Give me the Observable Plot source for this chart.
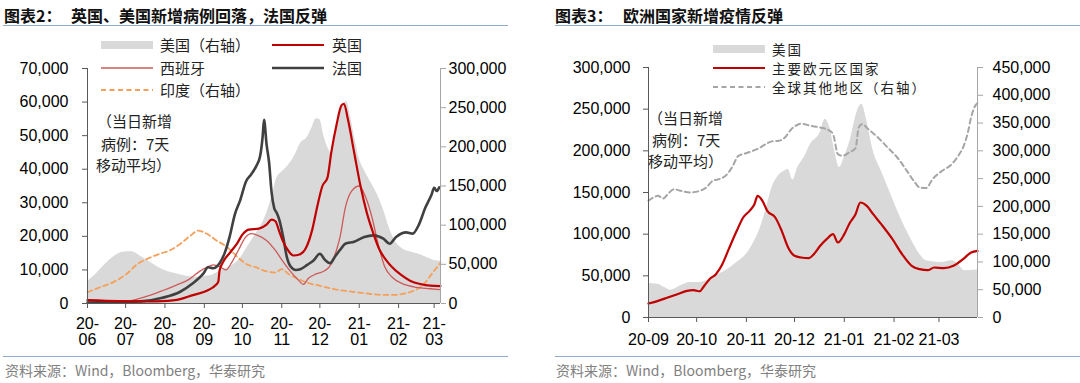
<!DOCTYPE html>
<html><head><meta charset="utf-8">
<script src="https://cdn.jsdelivr.net/npm/d3@7"></script>
<script src="https://cdn.jsdelivr.net/npm/@observablehq/plot@0.6"></script>
<style>
body{margin:0;background:#fff;}
#root{position:relative;width:1080px;height:383px;overflow:hidden;background:#fff;font-family:"Noto Sans CJK SC","Noto Sans",sans-serif;}
.abs{position:absolute;white-space:nowrap;}
.title{font-size:16px;line-height:16px;font-weight:bold;color:#111;}
.hr{position:absolute;height:0;border-top:1.5px solid #8eaad0;}
.src{font-size:14px;line-height:14px;color:#808080;}
.lg{font-size:15px;line-height:15px;color:#222;}
.lg2{font-size:13.5px;line-height:14px;letter-spacing:2px;color:#222;}
.note{font-size:15px;line-height:15px;color:#222;}
.chart{position:absolute;top:30px;}
svg.sw{position:absolute;overflow:visible;}
</style></head><body><div id="root"></div>
<script>
// ===== Left chart data (7-day moving averages) =====
const leftMonthTicks = ["2020-06-01","2020-07-01","2020-08-01","2020-09-01","2020-10-01","2020-11-01","2020-12-01","2021-01-01","2021-02-01","2021-03-01"];
const leftYTicks = [0,10000,20000,30000,40000,50000,60000,70000];
const leftY2Ticks = [0,50000,100000,150000,200000,250000,300000];
const leftUS = [["2020-06-01",28000],["2020-06-08",38000],["2020-06-15",50000],["2020-06-22",60000],["2020-06-29",65500],["2020-07-06",66000],["2020-07-13",60000],["2020-07-20",53000],["2020-07-27",46000],["2020-08-03",41000],["2020-08-10",38000],["2020-08-17",35000],["2020-08-24",33500],["2020-08-31",34500],["2020-09-07",36000],["2020-09-14",42000],["2020-09-21",47000],["2020-09-28",55000],["2020-10-05",72000],["2020-10-12",90000],["2020-10-16",100000],["2020-10-20",115000],["2020-10-24",135000],["2020-10-28",160000],["2020-11-01",168000],["2020-11-06",176000],["2020-11-11",188000],["2020-11-16",205000],["2020-11-21",212000],["2020-11-25",225000],["2020-11-28",236000],["2020-12-01",235000],["2020-12-04",215000],["2020-12-07",200000],["2020-12-10",192000],["2020-12-13",210000],["2020-12-16",235000],["2020-12-19",252000],["2020-12-22",258000],["2020-12-25",240000],["2020-12-28",215000],["2021-01-01",185000],["2021-01-05",170000],["2021-01-10",155000],["2021-01-15",140000],["2021-01-20",120000],["2021-01-25",95000],["2021-01-30",78000],["2021-02-04",70000],["2021-02-10",66000],["2021-02-17",63000],["2021-02-24",58000],["2021-03-01",55000],["2021-03-06",54000]];
const leftUK = [["2020-06-01",1000],["2020-06-26",700],["2020-07-20",600],["2020-07-30",700],["2020-08-13",1300],["2020-08-23",2500],["2020-09-03",3800],["2020-09-10",5500],["2020-09-12",6500],["2020-09-13",9800],["2020-09-16",12500],["2020-09-22",15500],["2020-09-27",18000],["2020-10-01",20500],["2020-10-06",22000],["2020-10-14",22300],["2020-10-20",23500],["2020-10-24",25000],["2020-10-27",24500],["2020-10-30",21500],["2020-11-02",18500],["2020-11-06",15800],["2020-11-10",14300],["2020-11-15",14600],["2020-11-20",16500],["2020-11-25",22000],["2020-11-29",29000],["2020-12-03",35000],["2020-12-07",37500],["2020-12-10",45000],["2020-12-14",53000],["2020-12-18",59000],["2020-12-20",59500],["2020-12-23",55000],["2020-12-28",45000],["2021-01-02",35000],["2021-01-07",27000],["2021-01-12",21000],["2021-01-17",16000],["2021-01-22",13000],["2021-01-27",10800],["2021-02-03",8500],["2021-02-10",6800],["2021-02-18",5800],["2021-02-26",5300],["2021-03-06",5200]];
const leftSpain = [["2020-06-01",300],["2020-06-20",400],["2020-07-01",600],["2020-07-10",1300],["2020-07-20",2400],["2020-07-30",3800],["2020-08-10",5500],["2020-08-20",7200],["2020-08-28",9500],["2020-09-03",10800],["2020-09-08",11500],["2020-09-14",10800],["2020-09-18",10000],["2020-09-23",12500],["2020-09-28",16000],["2020-10-03",19500],["2020-10-08",20800],["2020-10-13",20300],["2020-10-20",18800],["2020-10-27",15800],["2020-11-01",13000],["2020-11-08",9500],["2020-11-14",7000],["2020-11-18",5700],["2020-11-22",7500],["2020-11-28",8800],["2020-12-05",9800],["2020-12-10",11800],["2020-12-14",15800],["2020-12-17",20000],["2020-12-21",28500],["2020-12-26",33500],["2021-01-01",35000],["2021-01-06",31700],["2021-01-11",25700],["2021-01-16",17500],["2021-01-21",11000],["2021-01-27",7800],["2021-02-04",5900],["2021-02-15",4800],["2021-02-26",4400],["2021-03-06",4100]];
const leftFrance = [["2020-06-01",300],["2020-06-15",400],["2020-07-01",500],["2020-07-15",700],["2020-07-30",1700],["2020-08-13",3500],["2020-08-23",6000],["2020-08-31",8800],["2020-09-04",10800],["2020-09-08",10500],["2020-09-13",12000],["2020-09-17",15000],["2020-09-21",20000],["2020-09-25",26500],["2020-09-29",30500],["2020-10-04",36500],["2020-10-08",38500],["2020-10-12",41000],["2020-10-15",44000],["2020-10-17",50000],["2020-10-18",54700],["2020-10-20",47500],["2020-10-22",42000],["2020-10-24",33000],["2020-10-26",28500],["2020-10-28",27000],["2020-10-30",25000],["2020-11-02",20000],["2020-11-05",13800],["2020-11-08",11000],["2020-11-12",10000],["2020-11-16",10300],["2020-11-21",11500],["2020-11-26",12800],["2020-12-01",14800],["2020-12-05",13000],["2020-12-09",12000],["2020-12-13",14000],["2020-12-17",16000],["2020-12-21",17800],["2020-12-28",18400],["2021-01-05",19800],["2021-01-12",20300],["2021-01-20",19300],["2021-01-25",17800],["2021-01-30",19800],["2021-02-07",21200],["2021-02-12",20800],["2021-02-17",23500],["2021-02-22",28500],["2021-02-27",32500],["2021-03-01",34500],["2021-03-03",33500],["2021-03-05",34600]];
const leftIndia = [["2020-06-01",14400],["2020-06-11",20800],["2020-06-21",27000],["2020-07-02",38000],["2020-07-10",50000],["2020-07-18",57000],["2020-07-28",63500],["2020-08-05",68000],["2020-08-13",76000],["2020-08-21",86500],["2020-08-27",93000],["2020-09-03",89000],["2020-09-11",80000],["2020-09-19",72000],["2020-09-26",61000],["2020-10-04",50500],["2020-10-12",46000],["2020-10-20",41000],["2020-10-27",39500],["2020-11-01",44000],["2020-11-06",38000],["2020-11-14",31500],["2020-11-22",26000],["2020-11-30",23000],["2020-12-10",19000],["2020-12-23",15700],["2021-01-05",13200],["2021-01-18",11100],["2021-01-29",11000],["2021-02-08",13600],["2021-02-16",18800],["2021-02-21",25000],["2021-02-27",37500],["2021-03-06",52000]];

// ===== Right chart data =====
const rightMonthTicks = ["2020-09-01","2020-10-01","2020-11-01","2020-12-01","2021-01-01","2021-02-01","2021-03-01"];
const rightYTicks = [0,50000,100000,150000,200000,250000,300000];
const rightY2Ticks = [0,50000,100000,150000,200000,250000,300000,350000,400000,450000];
const rightUS = [["2020-09-01",40800],["2020-09-07",40000],["2020-09-11",36000],["2020-09-15",32800],["2020-09-21",38000],["2020-09-27",42000],["2020-10-03",42000],["2020-10-07",44000],["2020-10-13",50000],["2020-10-19",56000],["2020-10-26",66000],["2020-11-01",76000],["2020-11-05",88000],["2020-11-09",104000],["2020-11-13",128000],["2020-11-17",156000],["2020-11-21",170000],["2020-11-25",176000],["2020-11-27",178000],["2020-11-30",165000],["2020-12-03",180000],["2020-12-07",192000],["2020-12-11",208000],["2020-12-17",222000],["2020-12-20",238000],["2020-12-23",228000],["2020-12-26",200000],["2020-12-29",180000],["2021-01-01",192000],["2021-01-05",215000],["2021-01-08",240000],["2021-01-10",252000],["2021-01-12",256000],["2021-01-15",236000],["2021-01-19",200000],["2021-01-24",176000],["2021-01-30",148000],["2021-02-05",120000],["2021-02-11",96000],["2021-02-17",76000],["2021-02-21",68000],["2021-02-25",67000],["2021-03-03",66000],["2021-03-09",68000],["2021-03-13",64000],["2021-03-17",56000],["2021-03-25",57000]];
const rightEuro = [["2020-09-01",16800],["2020-09-07",20000],["2020-09-13",24000],["2020-09-19",28000],["2020-09-25",32000],["2020-09-29",32800],["2020-10-03",31500],["2020-10-05",36000],["2020-10-09",46000],["2020-10-13",52000],["2020-10-17",64000],["2020-10-21",82000],["2020-10-26",104000],["2020-10-30",120000],["2020-11-03",128000],["2020-11-06",136000],["2020-11-08",146000],["2020-11-11",140000],["2020-11-14",128000],["2020-11-19",120000],["2020-11-23",104000],["2020-11-27",84000],["2020-12-01",74000],["2020-12-05",72000],["2020-12-10",71200],["2020-12-13",76000],["2020-12-17",86000],["2020-12-21",94000],["2020-12-25",100000],["2020-12-28",90000],["2021-01-01",100000],["2021-01-04",112000],["2021-01-08",124000],["2021-01-11",138000],["2021-01-15",134000],["2021-01-19",124000],["2021-01-24",112000],["2021-01-31",94000],["2021-02-06",76000],["2021-02-12",62000],["2021-02-17",58000],["2021-02-22",56800],["2021-02-26",60000],["2021-03-04",59200],["2021-03-10",62000],["2021-03-16",70000],["2021-03-21",78000],["2021-03-25",80000]];
const rightRoW = [["2020-09-01",210000],["2020-09-04",216000],["2020-09-07",219000],["2020-09-10",214000],["2020-09-13",222000],["2020-09-17",231000],["2020-09-21",228000],["2020-09-27",225000],["2020-10-03",228000],["2020-10-07",234000],["2020-10-11",246000],["2020-10-15",249000],["2020-10-19",255000],["2020-10-23",270000],["2020-10-27",291000],["2020-10-31",295000],["2020-11-05",300000],["2020-11-09",305000],["2020-11-13",312000],["2020-11-17",317000],["2020-11-21",318000],["2020-11-25",324000],["2020-11-29",339000],["2020-12-03",347000],["2020-12-05",349000],["2020-12-11",345000],["2020-12-17",342000],["2020-12-23",336000],["2020-12-25",330000],["2020-12-28",294000],["2020-12-31",291000],["2021-01-04",297000],["2021-01-08",305000],["2021-01-10",342000],["2021-01-12",348000],["2021-01-16",339000],["2021-01-22",324000],["2021-01-28",306000],["2021-02-03",288000],["2021-02-09",264000],["2021-02-14",243000],["2021-02-17",234000],["2021-02-21",233000],["2021-02-25",249000],["2021-03-03",264000],["2021-03-09",276000],["2021-03-13",291000],["2021-03-16",306000],["2021-03-19",333000],["2021-03-21",360000],["2021-03-23",378000],["2021-03-25",386000]];

// ===== helpers =====
const D = s => new Date(s + "T00:00:00Z");
const fmt = d3.format(",");
const baseStyle = {fontFamily: "'Liberation Sans', Arial, sans-serif", fontSize: "16px", color: "#000", background: "transparent", overflow: "visible"};
const root = document.getElementById("root");
function add(html){ root.insertAdjacentHTML("beforeend", html); }

// ===== Left chart =====
const kL = 70000 / 300000;
const leftX0 = D("2020-06-01"), leftX1 = D("2021-03-06");
const left = Plot.plot({
  width: 540, height: 320,
  marginTop: 38, marginBottom: 47, marginLeft: 87, marginRight: 100,
  style: baseStyle,
  x: {type: "utc", domain: [leftX0, leftX1]},
  y: {domain: [0, 70000]},
  marks: [
    Plot.areaY(leftUS, {x: d => D(d[0]), y: d => d[1] * kL, fill: "#d9d9d9", curve: "monotone-x"}),
    Plot.lineY(leftIndia, {x: d => D(d[0]), y: d => d[1] * kL, stroke: "#f5a05a", strokeWidth: 1.8, strokeDasharray: "5,3.5", curve: "monotone-x"}),
    Plot.lineY(leftSpain, {x: d => D(d[0]), y: d => d[1], stroke: "#cd5a5a", strokeWidth: 1.3, curve: "monotone-x"}),
    Plot.lineY(leftFrance, {x: d => D(d[0]), y: d => d[1], stroke: "#404040", strokeWidth: 2.6, curve: "monotone-x"}),
    Plot.lineY(leftUK, {x: d => D(d[0]), y: d => d[1], stroke: "#c00000", strokeWidth: 2.2, curve: "monotone-x"}),
    Plot.ruleX([leftX0], {stroke: "#595959"}),
    Plot.ruleX([leftX1], {stroke: "#a6a6a6"}),
    Plot.ruleY([0], {stroke: "#595959"}),
    Plot.axisX(leftMonthTicks.map(D), {tickFormat: d => d3.utcFormat("%y")(d) + "-\n" + d3.utcFormat("%m")(d), tickSize: 5, tickPadding: 9, stroke: "#595959", label: null}),
    Plot.axisY(leftYTicks, {anchor: "left", tickFormat: fmt, tickSize: 5, tickPadding: 14, stroke: "#595959", label: null}),
    Plot.axisY(leftY2Ticks.map(v => v * kL), {anchor: "right", tickFormat: d => fmt(Math.round(d / kL)), tickSize: 5, tickPadding: 3, stroke: "#a6a6a6", label: null})
  ]
});
const lw = document.createElement("div"); lw.className = "chart"; lw.style.left = "0px"; lw.appendChild(left); root.appendChild(lw);

// ===== Right chart =====
const kR = 300000 / 450000;
const rightX0 = D("2020-09-01"), rightX1 = D("2021-03-25");
const right = Plot.plot({
  width: 540, height: 320,
  marginTop: 37, marginBottom: 33, marginLeft: 108, marginRight: 103,
  style: baseStyle,
  x: {type: "utc", domain: [rightX0, rightX1]},
  y: {domain: [0, 300000]},
  marks: [
    Plot.areaY(rightUS, {x: d => D(d[0]), y: d => d[1], fill: "#d9d9d9", curve: "monotone-x"}),
    Plot.lineY(rightRoW, {x: d => D(d[0]), y: d => d[1] * kR, stroke: "#a6a6a6", strokeWidth: 2, strokeDasharray: "5,3.5", curve: "monotone-x"}),
    Plot.lineY(rightEuro, {x: d => D(d[0]), y: d => d[1], stroke: "#c00000", strokeWidth: 2.2, curve: "monotone-x"}),
    Plot.ruleX([rightX0], {stroke: "#595959"}),
    Plot.ruleX([rightX1], {stroke: "#a6a6a6"}),
    Plot.ruleY([0], {stroke: "#595959"}),
    Plot.axisX(rightMonthTicks.map(D), {tickFormat: d3.utcFormat("%y-%m"), tickSize: 5, tickPadding: 11, stroke: "#595959", label: null}),
    Plot.axisY(rightYTicks, {anchor: "left", tickFormat: fmt, tickSize: 5, tickPadding: 13, stroke: "#595959", label: null}),
    Plot.axisY(rightY2Ticks.map(v => v * kR), {anchor: "right", tickFormat: d => fmt(Math.round(d / kR)), tickSize: 5, tickPadding: 10, stroke: "#a6a6a6", label: null})
  ]
});
const rw = document.createElement("div"); rw.className = "chart"; rw.style.left = "540px"; rw.appendChild(right); root.appendChild(rw);

// ===== Titles, rules, sources =====
add('<div class="abs title" style="left:4px;top:7px">图表2：</div>');
add('<div class="abs title" style="left:71px;top:7px">英国、美国新增病例回落，法国反弹</div>');
add('<div class="abs title" style="left:555px;top:7px">图表3：</div>');
add('<div class="abs title" style="left:623px;top:7px">欧洲国家新增疫情反弹</div>');
add('<div class="hr" style="left:3px;width:505px;top:25px"></div>');
add('<div class="hr" style="left:555px;width:525px;top:25px"></div>');
add('<div class="hr" style="left:3px;width:505px;top:356px"></div>');
add('<div class="hr" style="left:555px;width:525px;top:356px"></div>');
add('<div class="abs src" style="left:5px;top:363px">资料来源：Wind，Bloomberg，华泰研究</div>');
add('<div class="abs src" style="left:556px;top:363px">资料来源：Wind，Bloomberg，华泰研究</div>');

// ===== Legends =====
function sw(left, cy, kind, color, w, dash){
  let inner;
  if (kind === "rect") inner = `<rect x="0" y="1" width="52" height="8" fill="${color}"/>`;
  else inner = `<line x1="0" y1="5" x2="52" y2="5" stroke="${color}" stroke-width="${w}" ${dash ? `stroke-dasharray="${dash}"` : ""}/>`;
  add(`<svg class="sw" width="52" height="10" style="left:${left}px;top:${cy - 5}px">${inner}</svg>`);
}
function lab(left, cy, text, cls){ add(`<div class="abs ${cls || "lg"}" style="left:${left}px;top:${cy - 8}px">${text}</div>`); }
sw(101, 45, "rect", "#d9d9d9"); lab(160, 45, "美国（右轴）");
sw(272, 45, "line", "#c00000", 2.2); lab(332, 45, "英国");
sw(101, 68, "line", "#cd5a5a", 1.3); lab(160, 68, "西班牙");
sw(272, 68, "line", "#404040", 2.6); lab(332, 68, "法国");
sw(101, 90, "line", "#f5a05a", 1.8, "5,3.5"); lab(160, 90, "印度（右轴）");

sw(713, 49, "rect", "#d9d9d9"); lab(772, 49.5, "美国", "lg2");
sw(713, 68, "line", "#c00000", 2.2); lab(772, 68.5, "主要欧元区国家", "lg2");
sw(713, 87, "line", "#a6a6a6", 2, "5,3.5"); lab(772, 87.5, "全球其他地区（右轴）", "lg2");

// ===== Annotations =====
function note(left, cy, text){ add(`<div class="abs note" style="left:${left}px;top:${cy - 8}px">${text}</div>`); }
note(97, 121, "（当日新增"); note(101, 144, "病例：7天"); note(96, 165, "移动平均）");
note(648, 118, "（当日新增"); note(652, 140, "病例：7天"); note(648, 161, "移动平均）");
</script></body></html>
